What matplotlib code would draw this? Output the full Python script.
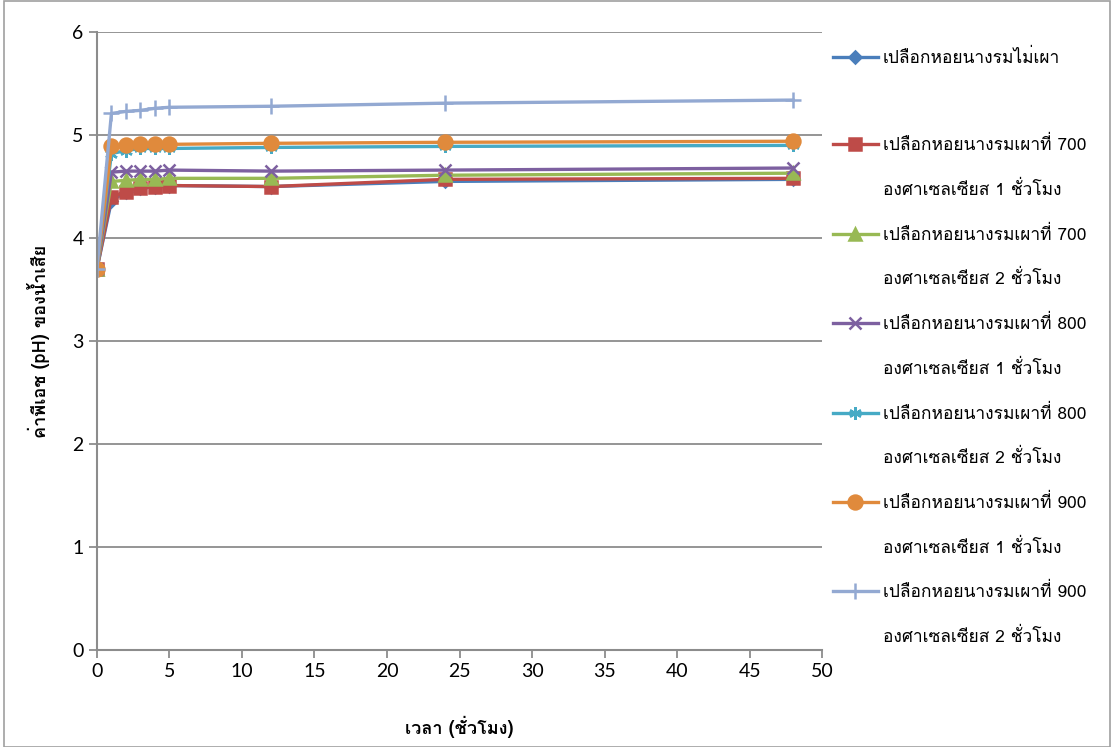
import matplotlib
matplotlib.use("Agg")
import matplotlib.pyplot as plt
from matplotlib import font_manager
from matplotlib.ft2font import FT2Font
from matplotlib.lines import Line2D

# time (hours)
hours = [0, 1, 2, 3, 4, 5, 12, 24, 48]

ph_raw = [3.70, 4.36, 4.45, 4.49, 4.50, 4.51, 4.50, 4.55, 4.57]
ph_700_1h = [3.70, 4.40, 4.45, 4.49, 4.50, 4.51, 4.50, 4.57, 4.58]
ph_700_2h = [3.70, 4.55, 4.56, 4.57, 4.57, 4.58, 4.58, 4.61, 4.63]
ph_800_1h = [3.70, 4.64, 4.65, 4.65, 4.65, 4.66, 4.65, 4.66, 4.68]
ph_800_2h = [3.70, 4.82, 4.85, 4.87, 4.87, 4.87, 4.88, 4.89, 4.90]
ph_900_1h = [3.70, 4.89, 4.90, 4.91, 4.91, 4.91, 4.92, 4.93, 4.94]
ph_900_2h = [3.70, 5.21, 5.23, 5.24, 5.26, 5.27, 5.28, 5.31, 5.34]

labels = [
    ("เปลือกหอยนางรมไม่เผา", " "),
    ("เปลือกหอยนางรมเผาที่ 700", "องศาเซลเซียส 1 ชั่วโมง"),
    ("เปลือกหอยนางรมเผาที่ 700", "องศาเซลเซียส 2 ชั่วโมง"),
    ("เปลือกหอยนางรมเผาที่ 800", "องศาเซลเซียส 1 ชั่วโมง"),
    ("เปลือกหอยนางรมเผาที่ 800", "องศาเซลเซียส 2 ชั่วโมง"),
    ("เปลือกหอยนางรมเผาที่ 900", "องศาเซลเซียส 1 ชั่วโมง"),
    ("เปลือกหอยนางรมเผาที่ 900", "องศาเซลเซียส 2 ชั่วโมง"),
]

# find an installed font that has Thai glyphs
thai_fonts = []
for f in font_manager.fontManager.ttflist:
    try:
        if 0x0E01 in FT2Font(f.fname).get_charmap() and f.name not in thai_fonts:
            thai_fonts.append(f.name)
    except Exception:
        pass
plt.rcParams['font.family'] = thai_fonts[:1] + ["Lato", "DejaVu Sans"]

fig = plt.figure(figsize=(11.14, 7.47), dpi=100)
ax = fig.add_axes([0.087, 0.13, 0.651, 0.827])

series = [ph_raw, ph_700_1h, ph_700_2h, ph_800_1h, ph_800_2h, ph_900_1h, ph_900_2h]
colors = ['#4A7EBB', '#BE4B48', '#98B954', '#7D60A0', '#46AAC5', '#E08A3C', '#93A9D2']
markers = ['D', 's', '^', 'x', (6, 2, 0), 'o', '+']
sizes = [6, 9, 9, 9, 9, 10, 11]

handles, texts = [], []
for y, c, m, s, (l1, l2) in zip(series, colors, markers, sizes, labels):
    line, = ax.plot(hours, y, color=c, marker=m, markersize=s, linewidth=2.4,
                    markeredgewidth=1.8)
    handles += [line, Line2D([], [], linestyle='none')]
    texts += [l1, l2]

ax.set_xlim(0, 50)
ax.set_ylim(0, 6)
ax.set_xticks(range(0, 51, 5))
ax.set_yticks(range(0, 7))
ax.grid(axis='y', color='#8C8C8C', linewidth=1.3)
ax.set_axisbelow(True)
for side in ['top', 'right']:
    ax.spines[side].set_visible(False)
for side in ['left', 'bottom']:
    ax.spines[side].set_color('#8C8C8C')
    ax.spines[side].set_linewidth(1.5)
ax.tick_params(colors='#8C8C8C', labelcolor='black', labelsize=14, length=6, width=1.3)
for t in ax.get_xticklabels() + ax.get_yticklabels():
    t.set_family(["Lato", "DejaVu Sans"])
ax.set_xlabel("เวลา (ชั่วโมง)", fontsize=13, fontweight='bold', labelpad=26)
ax.set_ylabel("ค่าพีเอช (pH) ของน้ำเสีย", fontsize=13, fontweight='bold', labelpad=16)

leg = ax.legend(handles, texts, loc='upper left', bbox_to_anchor=(1.0, 0.99),
                frameon=False, fontsize=12.5, handlelength=2.6, handletextpad=0.3,
                labelspacing=1.53, borderaxespad=0.2)

fig.patches.append(plt.Rectangle((0.004, 0.0), 0.992, 0.999, transform=fig.transFigure,
                                 fill=False, edgecolor='#A0A0A0', linewidth=1.2))

plt.savefig("out.png", dpi=100)
